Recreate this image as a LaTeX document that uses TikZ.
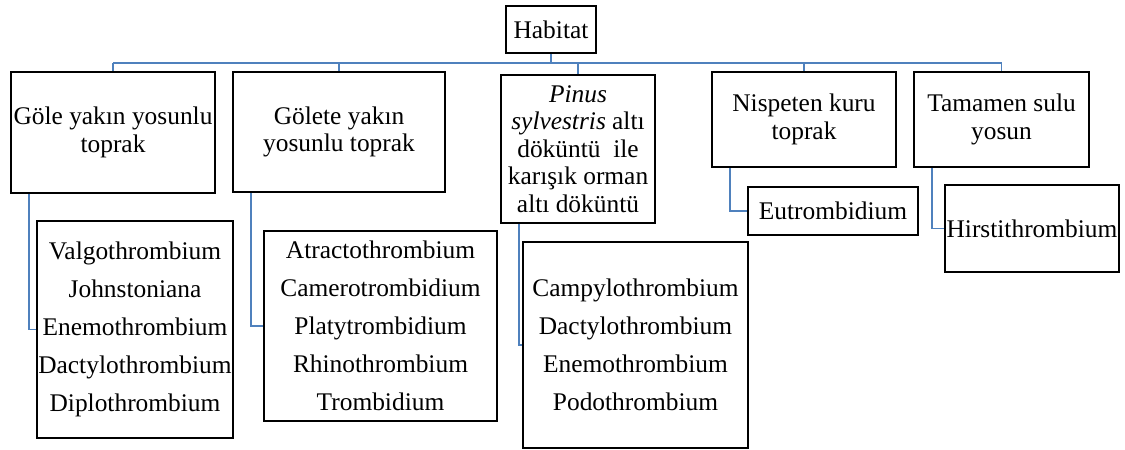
\documentclass[tikz,border=0pt]{standalone}
\usepackage{fontspec}
\setmainfont{Liberation Serif}
\usepackage{xcolor}
\definecolor{linkblue}{RGB}{79,129,189}
\tikzset{
  habbox/.style={draw=black, line width=1pt, inner sep=0pt, align=center,
    font=\fontsize{12.7}{13.7}\selectfont},
  genusbox/.style={habbox, font=\fontsize{12.7}{19}\selectfont},
  link/.style={draw=linkblue, line width=0.8pt}
}

\begin{document}
\begin{tikzpicture}[x=0.5pt, y=-0.5pt]
  \useasboundingbox (0,0) rectangle (1125,450);

  % Root
  \node[habbox, minimum width=45pt, minimum height=23.5pt] (habitat) at (551,29.5) {Habitat};

  % Habitat types
  \node[habbox, minimum width=102pt, minimum height=60.5pt] (b1) at (113,132.5)
    {Göle yakın yosunlu\\toprak};
  \node[habbox, minimum width=106pt, minimum height=60pt] (b2) at (339,132)
    {Gölete yakın\\yosunlu toprak};
  \node[habbox, minimum width=77pt, minimum height=74pt] (b3) at (578,149)
    {\textit{Pinus}\\\textit{sylvestris} altı\\döküntü\ \ ile\\karışık orman\\altı döküntü};
  \node[habbox, minimum width=92pt, minimum height=47.5pt] (b4) at (804,119.5)
    {Nispeten kuru\\toprak};
  \node[habbox, minimum width=87.5pt, minimum height=47.5pt] (b5) at (1001.5,119.5)
    {Tamamen sulu\\yosun};

  % Genera
  \node[genusbox, minimum width=98pt, minimum height=108.5pt] (c1) at (135,329.5)
    {Valgothrombium\\Johnstoniana\\Enemothrombium\\Dactylothrombium\\Diplothrombium};
  \node[genusbox, minimum width=116.5pt, minimum height=95pt] (c2) at (380.5,326)
    {Atractothrombium\\Camerotrombidium\\Platytrombidium\\Rhinothrombium\\Trombidium};
  \node[genusbox, minimum width=112.5pt, minimum height=103pt] (c3) at (635.5,345)
    {Campylothrombium\\Dactylothrombium\\Enemothrombium\\Podothrombium};
  \node[genusbox, minimum width=85pt, minimum height=24pt] (c4) at (833,211) {Eutrombidium};
  \node[genusbox, minimum width=87pt, minimum height=43.5pt] (c5) at (1032,228.5) {Hirstithrombium};

  % Connectors
  \coordinate (bus) at (551,63);
  \draw[link] (b1.north |- bus) -- (b5.north |- bus);
  \draw[link] (habitat.south) -- (bus);
  \foreach \b in {b1,b2,b3,b4,b5} {
    \draw[link] (\b.north |- bus) -- (\b.north);
  }
  \foreach \p/\c in {b1/c1,b2/c2,b3/c3,b4/c4,b5/c5} {
    \draw[link] ([xshift=9.5pt]\p.south west) |- (\c.west);
  }
\end{tikzpicture}
\end{document}
